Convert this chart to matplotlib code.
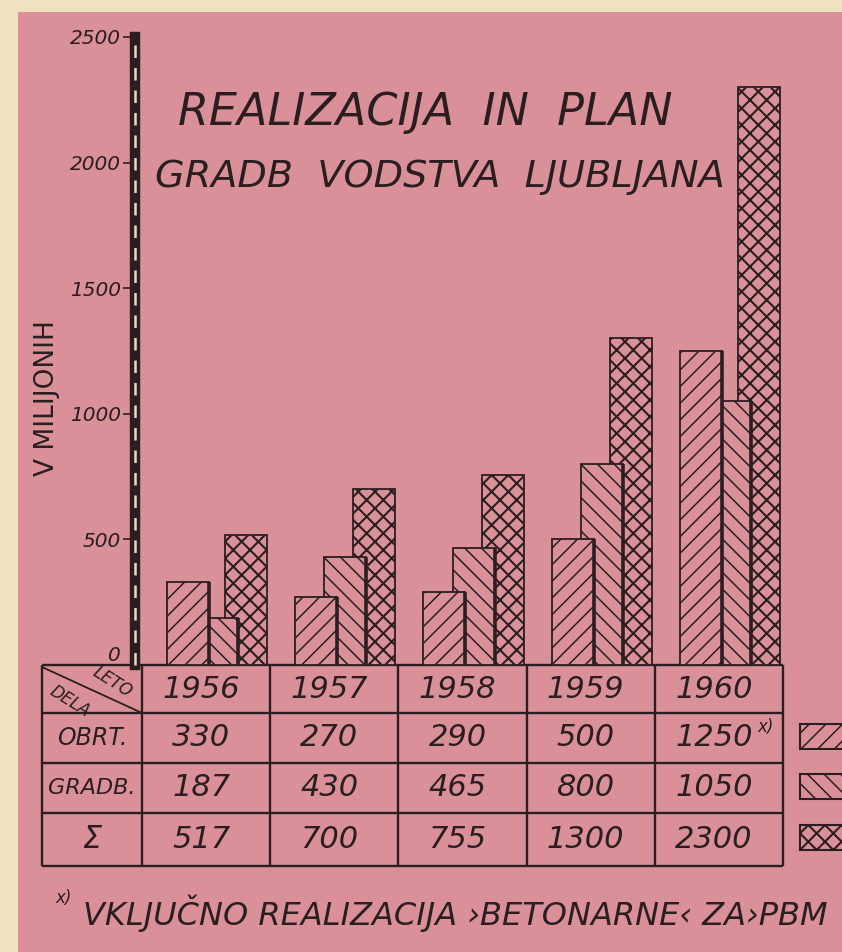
import matplotlib
matplotlib.use("Agg")
import matplotlib.pyplot as plt
import numpy as np
from matplotlib.patches import Rectangle

# values from the poster (millions)
years = ["1956", "1957", "1958", "1959", "1960"]
obrt = [330, 270, 290, 500, 1250]
gradb = [187, 430, 465, 800, 1050]
total = [517, 700, 755, 1300, 2300]
row_labels = ["OBRT.", "GRADB.", "Σ"]
y_ticks = [0, 500, 1000, 1500, 2000, 2500]

W, H = 842, 952
PINK = "#da9098"
CREAM = "#efe2c0"
INK = "#2a1e20"

plt.rcParams["font.family"] = "DejaVu Sans"
plt.rcParams["font.style"] = "italic"

fig = plt.figure(figsize=(W / 100, H / 100), dpi=100, facecolor=CREAM)

# background layer in pixel coordinates (texts, table, legend)
bg = fig.add_axes([0, 0, 1, 1], zorder=0)
bg.set_xlim(0, W)
bg.set_ylim(H, 0)
bg.axis("off")
bg.add_patch(Rectangle((18, 12), W - 18, H - 12, facecolor=PINK, edgecolor="none"))

# chart area
col_left, col_w = 142, 128.2
ax_left_px, ax_right_px = 135, 783
base_px, top_px = 665, 37
ax = fig.add_axes([ax_left_px / W, (H - base_px) / H,
                   (ax_right_px - ax_left_px) / W, (base_px - top_px) / H], zorder=1)
ax.patch.set_visible(False)
x_min = -0.5 - (col_left - ax_left_px) / col_w
ax.set_xlim(x_min, 4.5)
ax.set_ylim(0, 2500)

x = np.arange(len(years))
width = 0.328
series = [
    (total, "xx", 0.313, 1, 1.5, False),
    (gradb, "\\\\", 0.086, 2, 1.1, True),
    (obrt, "//", -0.141, 3, 1.1, True),
]
for vals, hatch, off, z, hlw, shade in series:
    plt.rcParams["hatch.linewidth"] = hlw
    ax.bar(x + off, vals, width, facecolor=PINK, edgecolor=INK,
           hatch=hatch, linewidth=1.3, zorder=z)
    if shade:
        ax.vlines(x + off + width / 2, 0, vals, color=INK, lw=2.6, zorder=z)

for side in ["top", "right", "bottom"]:
    ax.spines[side].set_visible(False)
ax.spines["left"].set_linewidth(7.5)
ax.spines["left"].set_color(INK)
ax.plot([x_min, x_min], [0, 2500], color="#efd6cc", lw=1.8, dashes=(5, 4),
        clip_on=False, zorder=5)
ax.set_xticks([])
ax.set_yticks(y_ticks)
ax.tick_params(axis="y", direction="out", length=9, width=1.2, color=INK,
               labelsize=14.5, pad=1, labelcolor=INK)
zero_lab = ax.get_yticklabels()[0]
zero_lab.set_va("bottom")
ax.yaxis.get_major_ticks()[0].tick1line.set_visible(False)

bg.text(47, 398, "V MILIJONIH", rotation=90, fontsize=19, style="normal",
        ha="center", va="center", color=INK)

# title
bg.text(178, 112, "REALIZACIJA  IN  PLAN", fontsize=32, ha="left", va="center", color=INK)
bg.text(155, 177, "GRADB  VODSTVA  LJUBLJANA", fontsize=27.5, ha="left", va="center", color=INK)

# table
col_edges = [42] + [col_left + i * col_w for i in range(len(years) + 1)]
row_edges = [665, 713, 763, 813, 866]
bg.hlines(row_edges, col_edges[0], col_edges[-1], color=INK, lw=1.7)
bg.vlines(col_edges, row_edges[0], row_edges[-1], color=INK, lw=1.7)
bg.plot([42, 142], [667, 713], color=INK, lw=1.3)
bg.text(112, 682, "LETO", fontsize=12, rotation=-32, ha="center", va="center", color=INK)
bg.text(70, 701, "DELA", fontsize=12, rotation=-32, ha="center", va="center", color=INK)

row_y = [(row_edges[i] + row_edges[i + 1]) / 2 for i in range(4)]
for i, yr in enumerate(years):
    cx = col_left + (i + 0.5) * col_w - 5
    bg.text(cx, row_y[0], yr, fontsize=22, ha="center", va="center", color=INK)
    for j, vals in enumerate([obrt, gradb, total]):
        bg.text(cx, row_y[j + 1], str(vals[i]), fontsize=22, ha="center",
                va="center", color=INK)
bg.text(766, 727, "x)", fontsize=12, ha="center", va="center", color=INK)

for lab, yy, fs in zip(row_labels, row_y[1:], [17, 16, 22]):
    bg.text(92, yy, lab, fontsize=fs, ha="center", va="center", color=INK)

# legend swatches on the right edge
for (hatch, hlw), yy in zip([("//", 1.1), ("\\\\", 1.1), ("xx", 1.5)], [724, 774, 825]):
    plt.rcParams["hatch.linewidth"] = hlw
    bg.add_patch(Rectangle((800, yy), 70, 25, facecolor=PINK, edgecolor=INK,
                           hatch=hatch, lw=1.5))

# footnote
bg.text(64, 898, "x)", fontsize=12, ha="center", va="center", color=INK)
bg.text(83, 913, "VKLJUČNO REALIZACIJA ›BETONARNE‹ ZA›PBM", fontsize=23,
        ha="left", va="center", color=INK)

fig.savefig("out.png", dpi=100, facecolor=CREAM)
